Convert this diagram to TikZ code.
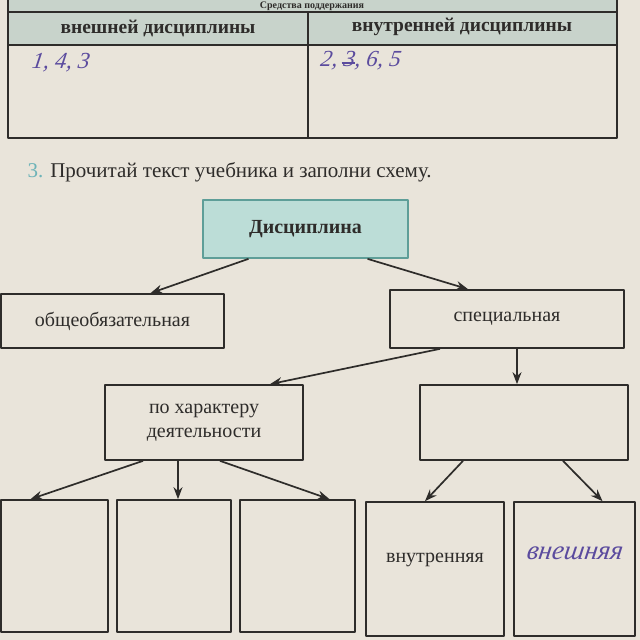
\documentclass[tikz,border=0pt]{standalone}
\usepackage{fontspec}
\setmainfont{Liberation Serif}
\newfontfamily\hand{Liberation Serif}[FakeSlant=0.15]
\usetikzlibrary{arrows.meta}
\definecolor{paper}{HTML}{E9E4DA}
\definecolor{tabhead}{HTML}{C8D3CB}
\definecolor{disfill}{HTML}{BCDDD7}
\definecolor{disline}{HTML}{5E9E98}
\definecolor{ink}{HTML}{2E2C2A}
\definecolor{pen}{HTML}{5B4B9E}
\definecolor{tasknum}{HTML}{6DB3B8}
\tikzset{
  box/.style={draw=ink,line width=1.7pt,inner sep=0pt,align=center},
  arr/.style={-{Stealth[length=12pt,width=9pt]},line width=1.7pt,draw=ink},
  handtext/.style={text=pen,font=\fontsize{23}{25}\selectfont\hand\itshape}
}
\begin{document}
\begin{tikzpicture}[x=1pt,y=-1pt,line join=round,font=\fontsize{20}{24}\selectfont,text=ink]
\clip (0,0) rectangle (640,640);
\fill[paper] (0,0) rectangle (640,640);
% table
\fill[tabhead] (8,-5) rectangle (617,45);
\draw[ink,line width=1.5pt] (8,-5)--(8,138)--(617,138)--(617,-5);
\draw[ink,line width=1.5pt] (8,12)--(617,12);
\draw[ink,line width=1.5pt] (8,45)--(617,45);
\draw[ink,line width=1.5pt] (308,12)--(308,138);
\node[font=\fontsize{10}{11}\selectfont\bfseries] (t0) at (312,6) {Средства поддержания};
\node[font=\fontsize{19.5}{22}\selectfont\bfseries] (t1) at (158,28) {внешней дисциплины};
\node[font=\fontsize{19.5}{22}\selectfont\bfseries] (t2) at (462,27) {внутренней дисциплины};
\node[handtext] (h1) at (60,63) {1, 4, 3};
\node[handtext] (h2) at (360,61) {2, \ooalign{3\cr\hidewidth\raisebox{.3ex}{\rule{.6em}{1.2pt}}\hidewidth\cr}, 6, 5};
% task
\node[anchor=west,font=\fontsize{21}{24}\selectfont] (task) at (24,172) {\textcolor{tasknum}{3.} Прочитай текст учебника и заполни схему.};
% scheme
\node[box,draw=disline,fill=disfill,minimum width=205pt,minimum height=58pt,font=\fontsize{20}{24}\selectfont\bfseries] (dis) at (305.5,229) {Дисциплина};
\node[box,minimum width=223pt,minimum height=54pt] (obsh) at (112.5,321) {общеобязательная};
\node[box,minimum width=234pt,minimum height=58pt] (spec) at (507,319) {специальная};
\node[box,minimum width=198pt,minimum height=75pt] (har) at (204,422.5) {по характеру\\деятельности};
\node[box,minimum width=208pt,minimum height=75pt] (vid) at (524,422.5) {};
\node[box,minimum width=107pt,minimum height=132pt] (b1) at (54.5,566) {};
\node[box,minimum width=114pt,minimum height=132pt] (b2) at (174,566) {};
\node[box,minimum width=115pt,minimum height=132pt] (b3) at (297.5,566) {};
\node[box,minimum width=138pt,minimum height=134pt] (b4) at (435,569) {};
\node[box,minimum width=121pt,minimum height=134pt] (b5) at (574.5,569) {};
\node (w4) at (435,560) {внутренняя};
\node[handtext,font=\fontsize{27}{29}\selectfont\hand\itshape] (w5) at (574,553) {внешняя};
% arrows
\draw[arr] ([xshift=-57pt]dis.south) -- ([xshift=38pt]obsh.north);
\draw[arr] ([xshift=62pt]dis.south) -- ([xshift=-39pt]spec.north);
\draw[arr] ([xshift=-67pt]spec.south) -- ([xshift=66pt]har.north);
\draw[arr] ([xshift=10pt]spec.south) -- ([xshift=-7pt]vid.north);
\draw[arr] ([xshift=-61pt]har.south) -- ([xshift=-24pt]b1.north);
\draw[arr] ([xshift=-26pt]har.south) -- ([xshift=4pt]b2.north);
\draw[arr] ([xshift=16pt]har.south) -- ([xshift=32pt]b3.north);
\draw[arr] ([xshift=-61pt]vid.south) -- ([xshift=-10pt]b4.north);
\draw[arr] ([xshift=39pt]vid.south) -- ([xshift=28pt]b5.north);
\end{tikzpicture}
\end{document}
